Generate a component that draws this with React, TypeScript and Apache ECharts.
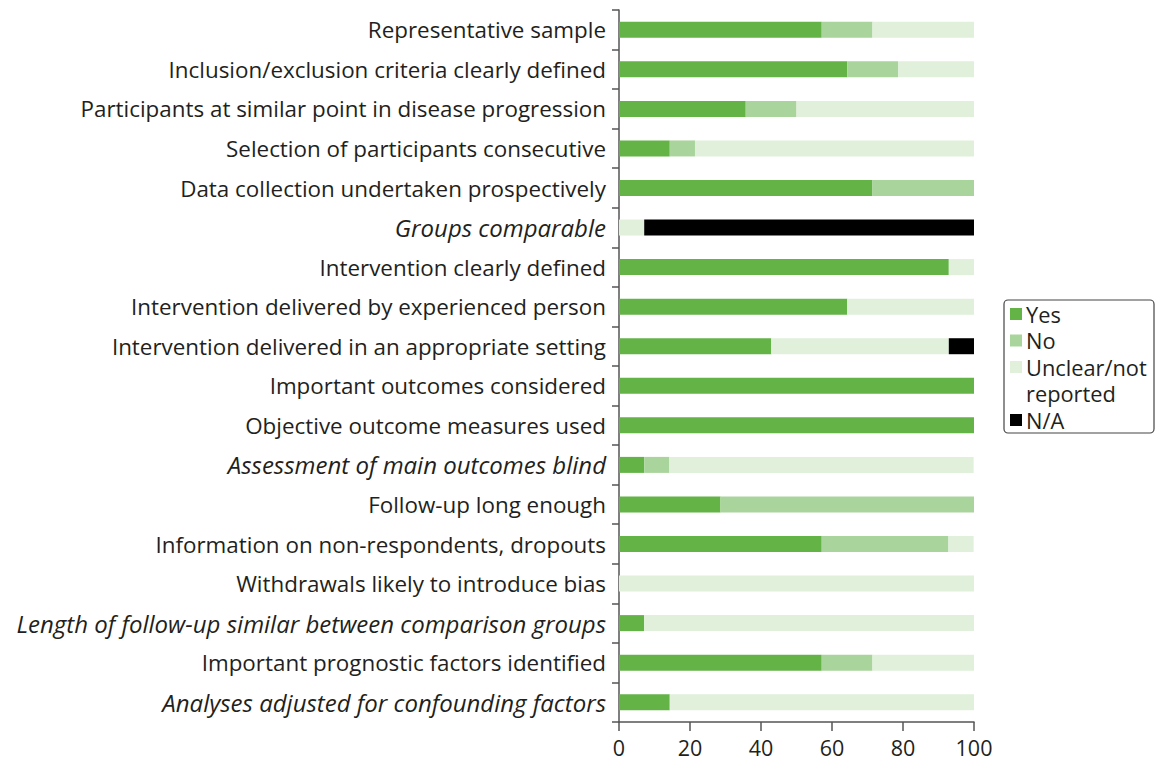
import React, { useEffect, useRef } from "react";
import * as echarts from "echarts";

const categories = [
  "Representative sample",
  "Inclusion/exclusion criteria clearly defined",
  "Participants at similar point in disease progression",
  "Selection of participants consecutive",
  "Data collection undertaken prospectively",
  "Groups comparable",
  "Intervention clearly defined",
  "Intervention delivered by experienced person",
  "Intervention delivered in an appropriate setting",
  "Important outcomes considered",
  "Objective outcome measures used",
  "Assessment of main outcomes blind",
  "Follow-up long enough",
  "Information on non-respondents, dropouts",
  "Withdrawals likely to introduce bias",
  "Length of follow-up similar between comparison groups",
  "Important prognostic factors identified",
  "Analyses adjusted for confounding factors",
];

const italicCategories = [
  "Groups comparable",
  "Assessment of main outcomes blind",
  "Length of follow-up similar between comparison groups",
  "Analyses adjusted for confounding factors",
];

const yesValues = [57.1, 64.3, 35.7, 14.3, 71.4, 0, 92.9, 64.3, 42.9, 100, 100, 7.1, 28.6, 57.1, 0, 7.1, 57.1, 14.3];
const noValues = [14.3, 14.3, 14.3, 7.1, 28.6, 0, 0, 0, 0, 0, 0, 7.1, 71.4, 35.7, 0, 0, 14.3, 0];
const unclearValues = [28.6, 21.4, 50.0, 78.6, 0, 7.1, 7.1, 35.7, 50.0, 0, 0, 85.7, 0, 7.1, 100, 92.9, 28.6, 85.7];
const naValues = [0, 0, 0, 0, 0, 92.9, 0, 0, 7.1, 0, 0, 0, 0, 0, 0, 0, 0, 0];

const seriesNames = ["Yes", "No", "Unclear/not reported", "N/A"];
const legendLabels = ["Yes", "No", "Unclear/not\nreported", "N/A"];
const colors = ["#63b347", "#a9d49b", "#e1f0da", "#000000"];

const FONT = "'Open Sans', sans-serif";
const TEXT = "#231f20";

export default function App() {
  const ref = useRef<HTMLDivElement>(null);
  useEffect(() => {
    if (!ref.current) return;
    const chart = echarts.init(ref.current, null, { renderer: "svg" });
    const dataSets = [yesValues, noValues, unclearValues, naValues];

    const legendX = 1004;
    const legendY = 300;
    const lineH = 26.5;
    const legendChildren: any[] = [
      {
        type: "rect",
        shape: { x: legendX, y: legendY, width: 150, height: 133, r: 4 },
        style: { fill: "#fff", stroke: "#444", lineWidth: 1.2 },
      },
    ];
    let row = 0;
    legendLabels.forEach((lab, i) => {
      const cy = legendY + 14 + row * lineH;
      legendChildren.push({
        type: "rect",
        shape: { x: legendX + 6, y: cy - 6, width: 12, height: 12 },
        style: { fill: colors[i] },
      });
      legendChildren.push({
        type: "text",
        x: legendX + 22,
        y: cy - lineH / 2,
        style: {
          text: lab,
          font: `21.8px ${FONT}`,
          fill: TEXT,
          lineHeight: lineH,
          verticalAlign: "top",
        },
      });
      row += lab.split("\n").length;
    });

    chart.setOption({
      animation: false,
      textStyle: { fontFamily: FONT },
      grid: { left: 619, right: 181, top: 10, bottom: 38, containLabel: false },
      xAxis: {
        type: "value",
        min: 0,
        max: 100,
        interval: 20,
        splitLine: { show: false },
        axisLine: { show: true, lineStyle: { color: "#555", width: 1.5 } },
        axisTick: { show: true, length: 9, lineStyle: { color: "#555", width: 1.5 } },
        axisLabel: { fontSize: 21.5, color: TEXT, margin: 14, fontFamily: FONT },
      },
      yAxis: {
        type: "category",
        inverse: true,
        data: categories,
        axisLine: { show: true, lineStyle: { color: "#555", width: 1.5 } },
        axisTick: { show: true, length: 7, lineStyle: { color: "#555", width: 1.5 } },
        axisLabel: {
          fontSize: 22.4,
          color: TEXT,
          margin: 13,
          fontFamily: FONT,
          formatter: (v: string) =>
            italicCategories.includes(v) ? `{it|${v}}` : `{n|${v}}`,
          rich: {
            it: { fontStyle: "italic", fontSize: 24, color: TEXT, fontFamily: FONT },
            n: { fontSize: 22.4, color: TEXT, fontFamily: FONT },
          },
        },
      },
      series: seriesNames.map((name, i) => ({
        name,
        type: "bar",
        stack: "total",
        barWidth: 16,
        itemStyle: { color: colors[i] },
        data: dataSets[i],
      })),
      graphic: legendChildren,
    });
    return () => chart.dispose();
  }, []);
  return <div ref={ref} style={{ width: 1155, height: 760, position: "absolute", left: 0, top: 0 }} />;
}
